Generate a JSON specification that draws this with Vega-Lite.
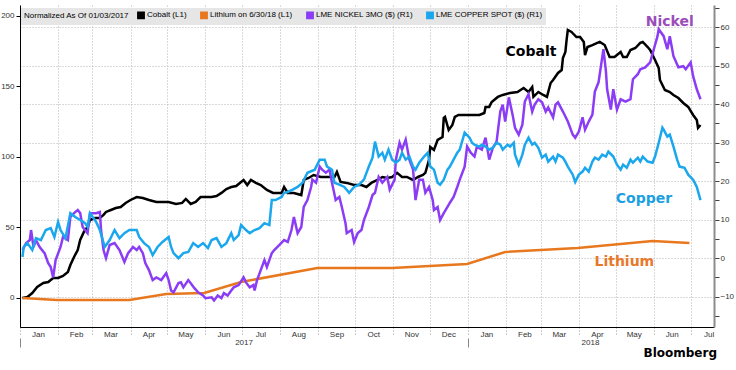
{
 "$schema": "https://vega.github.io/schema/vega-lite/v6.json",
 "width": 694,
 "height": 322,
 "autosize": {"type": "none"},
 "padding": {"left": 20, "top": 5, "right": 22, "bottom": 43},
 "background": "white",
 "config": {
  "view": {"stroke": null},
  "font": "Liberation Sans",
  "axis": {"labelFont": "Liberation Sans", "labelFontSize": 8, "labelColor": "#333333", "title": null}
 },
 "title": {"text": "Bloomberg", "orient": "bottom", "anchor": "end", "frame": "group", "font": "DejaVu Sans", "fontSize": 12, "fontWeight": "bold", "color": "#000000", "offset": 0, "dx": 3},
 "datasets": {
  "left": [
   {"d":"2017-01-03","v":0,"s":"Cobalt"},{"d":"2017-01-07","v":0.7,"s":"Cobalt"},{"d":"2017-01-11","v":3.5,"s":"Cobalt"},{"d":"2017-01-15","v":7.8,"s":"Cobalt"},{"d":"2017-01-20","v":10.6,"s":"Cobalt"},{"d":"2017-01-24","v":11.3,"s":"Cobalt"},{"d":"2017-01-28","v":14.2,"s":"Cobalt"},{"d":"2017-02-01","v":14.2,"s":"Cobalt"},{"d":"2017-02-05","v":15.6,"s":"Cobalt"},{"d":"2017-02-09","v":18.4,"s":"Cobalt"},{"d":"2017-02-11","v":23.4,"s":"Cobalt"},{"d":"2017-02-14","v":29.1,"s":"Cobalt"},{"d":"2017-02-17","v":34.0,"s":"Cobalt"},{"d":"2017-02-19","v":41.1,"s":"Cobalt"},{"d":"2017-02-22","v":46.8,"s":"Cobalt"},{"d":"2017-02-25","v":50.4,"s":"Cobalt"},{"d":"2017-02-27","v":55.3,"s":"Cobalt"},{"d":"2017-03-03","v":56.7,"s":"Cobalt"},{"d":"2017-03-07","v":56.7,"s":"Cobalt"},{"d":"2017-03-10","v":58.9,"s":"Cobalt"},{"d":"2017-03-12","v":61.0,"s":"Cobalt"},{"d":"2017-03-16","v":62.4,"s":"Cobalt"},{"d":"2017-03-20","v":63.8,"s":"Cobalt"},{"d":"2017-03-24","v":64.5,"s":"Cobalt"},{"d":"2017-03-28","v":67.4,"s":"Cobalt"},{"d":"2017-04-01","v":69.5,"s":"Cobalt"},{"d":"2017-04-06","v":71.6,"s":"Cobalt"},{"d":"2017-04-11","v":70.9,"s":"Cobalt"},{"d":"2017-04-16","v":69.5,"s":"Cobalt"},{"d":"2017-04-22","v":68.1,"s":"Cobalt"},{"d":"2017-04-27","v":68.1,"s":"Cobalt"},{"d":"2017-05-02","v":68.1,"s":"Cobalt"},{"d":"2017-05-08","v":66.7,"s":"Cobalt"},{"d":"2017-05-13","v":67.4,"s":"Cobalt"},{"d":"2017-05-16","v":70.2,"s":"Cobalt"},{"d":"2017-05-20","v":66.7,"s":"Cobalt"},{"d":"2017-05-24","v":68.1,"s":"Cobalt"},{"d":"2017-05-28","v":71.6,"s":"Cobalt"},{"d":"2017-06-01","v":71.6,"s":"Cobalt"},{"d":"2017-06-06","v":71.6,"s":"Cobalt"},{"d":"2017-06-10","v":72.3,"s":"Cobalt"},{"d":"2017-06-14","v":74.5,"s":"Cobalt"},{"d":"2017-06-18","v":77.3,"s":"Cobalt"},{"d":"2017-06-22","v":78.7,"s":"Cobalt"},{"d":"2017-06-26","v":79.4,"s":"Cobalt"},{"d":"2017-06-30","v":82.3,"s":"Cobalt"},{"d":"2017-07-02","v":83.7,"s":"Cobalt"},{"d":"2017-07-05","v":80.1,"s":"Cobalt"},{"d":"2017-07-08","v":83.7,"s":"Cobalt"},{"d":"2017-07-12","v":81.6,"s":"Cobalt"},{"d":"2017-07-16","v":80.1,"s":"Cobalt"},{"d":"2017-07-21","v":76.6,"s":"Cobalt"},{"d":"2017-07-26","v":74.5,"s":"Cobalt"},{"d":"2017-08-02","v":74.5,"s":"Cobalt"},{"d":"2017-08-04","v":78.7,"s":"Cobalt"},{"d":"2017-08-07","v":74.5,"s":"Cobalt"},{"d":"2017-08-12","v":74.5,"s":"Cobalt"},{"d":"2017-08-18","v":73.0,"s":"Cobalt"},{"d":"2017-08-20","v":83.7,"s":"Cobalt"},{"d":"2017-08-24","v":85.1,"s":"Cobalt"},{"d":"2017-08-28","v":87.2,"s":"Cobalt"},{"d":"2017-09-03","v":85.8,"s":"Cobalt"},{"d":"2017-09-08","v":85.8,"s":"Cobalt"},{"d":"2017-09-14","v":85.8,"s":"Cobalt"},{"d":"2017-09-16","v":89.4,"s":"Cobalt"},{"d":"2017-09-19","v":82.3,"s":"Cobalt"},{"d":"2017-09-24","v":81.6,"s":"Cobalt"},{"d":"2017-09-30","v":80.1,"s":"Cobalt"},{"d":"2017-10-06","v":80.1,"s":"Cobalt"},{"d":"2017-10-10","v":78.7,"s":"Cobalt"},{"d":"2017-10-14","v":81.6,"s":"Cobalt"},{"d":"2017-10-19","v":83.7,"s":"Cobalt"},{"d":"2017-10-23","v":85.8,"s":"Cobalt"},{"d":"2017-10-27","v":85.1,"s":"Cobalt"},{"d":"2017-10-31","v":85.8,"s":"Cobalt"},{"d":"2017-11-04","v":88.7,"s":"Cobalt"},{"d":"2017-11-08","v":85.8,"s":"Cobalt"},{"d":"2017-11-12","v":85.8,"s":"Cobalt"},{"d":"2017-11-17","v":83.7,"s":"Cobalt"},{"d":"2017-11-21","v":85.8,"s":"Cobalt"},{"d":"2017-11-25","v":87.2,"s":"Cobalt"},{"d":"2017-11-27","v":88.7,"s":"Cobalt"},{"d":"2017-11-30","v":97.9,"s":"Cobalt"},{"d":"2017-12-01","v":107.1,"s":"Cobalt"},{"d":"2017-12-04","v":105.0,"s":"Cobalt"},{"d":"2017-12-07","v":112.1,"s":"Cobalt"},{"d":"2017-12-11","v":114.2,"s":"Cobalt"},{"d":"2017-12-12","v":127.7,"s":"Cobalt"},{"d":"2017-12-13","v":128.4,"s":"Cobalt"},{"d":"2017-12-16","v":119.1,"s":"Cobalt"},{"d":"2017-12-19","v":122.7,"s":"Cobalt"},{"d":"2017-12-21","v":128.4,"s":"Cobalt"},{"d":"2017-12-24","v":129.8,"s":"Cobalt"},{"d":"2017-12-29","v":129.8,"s":"Cobalt"},{"d":"2018-01-04","v":129.8,"s":"Cobalt"},{"d":"2018-01-10","v":129.8,"s":"Cobalt"},{"d":"2018-01-14","v":131.2,"s":"Cobalt"},{"d":"2018-01-15","v":135.5,"s":"Cobalt"},{"d":"2018-01-18","v":135.5,"s":"Cobalt"},{"d":"2018-01-20","v":139.0,"s":"Cobalt"},{"d":"2018-01-25","v":142.6,"s":"Cobalt"},{"d":"2018-01-29","v":144.0,"s":"Cobalt"},{"d":"2018-02-04","v":145.4,"s":"Cobalt"},{"d":"2018-02-10","v":146.1,"s":"Cobalt"},{"d":"2018-02-15","v":148.9,"s":"Cobalt"},{"d":"2018-02-19","v":146.1,"s":"Cobalt"},{"d":"2018-02-22","v":149.6,"s":"Cobalt"},{"d":"2018-02-23","v":142.6,"s":"Cobalt"},{"d":"2018-02-27","v":146.1,"s":"Cobalt"},{"d":"2018-03-03","v":144.0,"s":"Cobalt"},{"d":"2018-03-06","v":142.6,"s":"Cobalt"},{"d":"2018-03-09","v":152.5,"s":"Cobalt"},{"d":"2018-03-11","v":154.6,"s":"Cobalt"},{"d":"2018-03-15","v":159.6,"s":"Cobalt"},{"d":"2018-03-18","v":161.7,"s":"Cobalt"},{"d":"2018-03-19","v":170.2,"s":"Cobalt"},{"d":"2018-03-21","v":174.5,"s":"Cobalt"},{"d":"2018-03-22","v":183.0,"s":"Cobalt"},{"d":"2018-03-23","v":190.1,"s":"Cobalt"},{"d":"2018-03-26","v":188.7,"s":"Cobalt"},{"d":"2018-03-30","v":185.1,"s":"Cobalt"},{"d":"2018-04-02","v":185.1,"s":"Cobalt"},{"d":"2018-04-05","v":181.6,"s":"Cobalt"},{"d":"2018-04-06","v":172.3,"s":"Cobalt"},{"d":"2018-04-08","v":178.0,"s":"Cobalt"},{"d":"2018-04-12","v":179.4,"s":"Cobalt"},{"d":"2018-04-16","v":180.9,"s":"Cobalt"},{"d":"2018-04-18","v":181.6,"s":"Cobalt"},{"d":"2018-04-22","v":179.4,"s":"Cobalt"},{"d":"2018-04-26","v":170.9,"s":"Cobalt"},{"d":"2018-04-30","v":170.9,"s":"Cobalt"},{"d":"2018-05-05","v":174.5,"s":"Cobalt"},{"d":"2018-05-07","v":170.9,"s":"Cobalt"},{"d":"2018-05-10","v":170.9,"s":"Cobalt"},{"d":"2018-05-13","v":175.9,"s":"Cobalt"},{"d":"2018-05-17","v":177.3,"s":"Cobalt"},{"d":"2018-05-21","v":180.9,"s":"Cobalt"},{"d":"2018-05-23","v":181.6,"s":"Cobalt"},{"d":"2018-05-27","v":178.0,"s":"Cobalt"},{"d":"2018-05-29","v":175.9,"s":"Cobalt"},{"d":"2018-06-02","v":168.8,"s":"Cobalt"},{"d":"2018-06-05","v":163.1,"s":"Cobalt"},{"d":"2018-06-06","v":154.6,"s":"Cobalt"},{"d":"2018-06-10","v":147.5,"s":"Cobalt"},{"d":"2018-06-14","v":146.1,"s":"Cobalt"},{"d":"2018-06-17","v":144.0,"s":"Cobalt"},{"d":"2018-06-21","v":141.8,"s":"Cobalt"},{"d":"2018-06-25","v":138.3,"s":"Cobalt"},{"d":"2018-06-29","v":135.5,"s":"Cobalt"},{"d":"2018-07-03","v":129.8,"s":"Cobalt"},{"d":"2018-07-06","v":126.2,"s":"Cobalt"},{"d":"2018-07-07","v":120.6,"s":"Cobalt"},{"d":"2018-07-09","v":122.7,"s":"Cobalt"},
   {"d":"2017-01-03","v":0,"s":"Lithium"},{"d":"2017-01-31","v":-1.4,"s":"Lithium"},{"d":"2017-03-31","v":-1.4,"s":"Lithium"},{"d":"2017-04-30","v":2.8,"s":"Lithium"},{"d":"2017-05-31","v":3.5,"s":"Lithium"},{"d":"2017-06-30","v":11.3,"s":"Lithium"},{"d":"2017-08-31","v":21.3,"s":"Lithium"},{"d":"2017-10-31","v":21.3,"s":"Lithium"},{"d":"2017-12-31","v":24.1,"s":"Lithium"},{"d":"2018-01-31","v":32.6,"s":"Lithium"},{"d":"2018-03-31","v":35.5,"s":"Lithium"},{"d":"2018-05-31","v":40.4,"s":"Lithium"},{"d":"2018-06-30","v":39.0,"s":"Lithium"}
  ],
  "right": [
   {"d":"2017-01-03","v":2.1,"s":"Nickel"},{"d":"2017-01-06","v":3.9,"s":"Nickel"},{"d":"2017-01-09","v":4.7,"s":"Nickel"},{"d":"2017-01-10","v":7.3,"s":"Nickel"},{"d":"2017-01-12","v":2.9,"s":"Nickel"},{"d":"2017-01-14","v":4.7,"s":"Nickel"},{"d":"2017-01-17","v":2.9,"s":"Nickel"},{"d":"2017-01-21","v":1.3,"s":"Nickel"},{"d":"2017-01-24","v":-1.3,"s":"Nickel"},{"d":"2017-01-26","v":-2.3,"s":"Nickel"},{"d":"2017-01-28","v":-5.0,"s":"Nickel"},{"d":"2017-01-30","v":-0.5,"s":"Nickel"},{"d":"2017-02-03","v":2.9,"s":"Nickel"},{"d":"2017-02-05","v":5.5,"s":"Nickel"},{"d":"2017-02-09","v":4.7,"s":"Nickel"},{"d":"2017-02-11","v":10.7,"s":"Nickel"},{"d":"2017-02-14","v":11.7,"s":"Nickel"},{"d":"2017-02-17","v":12.5,"s":"Nickel"},{"d":"2017-02-19","v":11.7,"s":"Nickel"},{"d":"2017-02-21","v":8.1,"s":"Nickel"},{"d":"2017-02-25","v":6.5,"s":"Nickel"},{"d":"2017-02-27","v":11.7,"s":"Nickel"},{"d":"2017-03-04","v":11.7,"s":"Nickel"},{"d":"2017-03-07","v":12.0,"s":"Nickel"},{"d":"2017-03-08","v":7.3,"s":"Nickel"},{"d":"2017-03-10","v":2.1,"s":"Nickel"},{"d":"2017-03-12","v":0.0,"s":"Nickel"},{"d":"2017-03-15","v":3.4,"s":"Nickel"},{"d":"2017-03-19","v":3.9,"s":"Nickel"},{"d":"2017-03-23","v":2.1,"s":"Nickel"},{"d":"2017-03-27","v":-1.0,"s":"Nickel"},{"d":"2017-03-30","v":1.3,"s":"Nickel"},{"d":"2017-04-03","v":2.9,"s":"Nickel"},{"d":"2017-04-06","v":2.1,"s":"Nickel"},{"d":"2017-04-08","v":2.9,"s":"Nickel"},{"d":"2017-04-11","v":1.3,"s":"Nickel"},{"d":"2017-04-13","v":-1.3,"s":"Nickel"},{"d":"2017-04-16","v":-3.1,"s":"Nickel"},{"d":"2017-04-19","v":-5.7,"s":"Nickel"},{"d":"2017-04-22","v":-5.0,"s":"Nickel"},{"d":"2017-04-26","v":-5.7,"s":"Nickel"},{"d":"2017-04-30","v":-3.9,"s":"Nickel"},{"d":"2017-05-02","v":-5.7,"s":"Nickel"},{"d":"2017-05-04","v":-8.4,"s":"Nickel"},{"d":"2017-05-06","v":-8.9,"s":"Nickel"},{"d":"2017-05-10","v":-6.5,"s":"Nickel"},{"d":"2017-05-12","v":-6.3,"s":"Nickel"},{"d":"2017-05-14","v":-7.6,"s":"Nickel"},{"d":"2017-05-18","v":-5.7,"s":"Nickel"},{"d":"2017-05-20","v":-6.5,"s":"Nickel"},{"d":"2017-05-23","v":-7.8,"s":"Nickel"},{"d":"2017-05-26","v":-8.9,"s":"Nickel"},{"d":"2017-05-30","v":-9.7,"s":"Nickel"},{"d":"2017-06-01","v":-10.4,"s":"Nickel"},{"d":"2017-06-06","v":-10.2,"s":"Nickel"},{"d":"2017-06-08","v":-11.0,"s":"Nickel"},{"d":"2017-06-11","v":-9.7,"s":"Nickel"},{"d":"2017-06-14","v":-10.4,"s":"Nickel"},{"d":"2017-06-16","v":-9.1,"s":"Nickel"},{"d":"2017-06-19","v":-9.7,"s":"Nickel"},{"d":"2017-06-22","v":-8.4,"s":"Nickel"},{"d":"2017-06-24","v":-7.6,"s":"Nickel"},{"d":"2017-06-28","v":-7.0,"s":"Nickel"},{"d":"2017-07-02","v":-5.0,"s":"Nickel"},{"d":"2017-07-04","v":-6.3,"s":"Nickel"},{"d":"2017-07-07","v":-7.6,"s":"Nickel"},{"d":"2017-07-10","v":-7.0,"s":"Nickel"},{"d":"2017-07-11","v":-8.4,"s":"Nickel"},{"d":"2017-07-13","v":-5.7,"s":"Nickel"},{"d":"2017-07-16","v":-3.1,"s":"Nickel"},{"d":"2017-07-19","v":-0.5,"s":"Nickel"},{"d":"2017-07-21","v":-2.3,"s":"Nickel"},{"d":"2017-07-25","v":1.3,"s":"Nickel"},{"d":"2017-07-27","v":2.1,"s":"Nickel"},{"d":"2017-07-31","v":3.4,"s":"Nickel"},{"d":"2017-08-04","v":4.7,"s":"Nickel"},{"d":"2017-08-07","v":4.2,"s":"Nickel"},{"d":"2017-08-10","v":7.3,"s":"Nickel"},{"d":"2017-08-12","v":10.7,"s":"Nickel"},{"d":"2017-08-15","v":6.5,"s":"Nickel"},{"d":"2017-08-18","v":8.1,"s":"Nickel"},{"d":"2017-08-20","v":13.3,"s":"Nickel"},{"d":"2017-08-23","v":15.1,"s":"Nickel"},{"d":"2017-08-26","v":18.5,"s":"Nickel"},{"d":"2017-08-27","v":20.4,"s":"Nickel"},{"d":"2017-08-30","v":19.6,"s":"Nickel"},{"d":"2017-09-02","v":23.8,"s":"Nickel"},{"d":"2017-09-04","v":23.0,"s":"Nickel"},{"d":"2017-09-07","v":22.2,"s":"Nickel"},{"d":"2017-09-10","v":23.0,"s":"Nickel"},{"d":"2017-09-12","v":19.6,"s":"Nickel"},{"d":"2017-09-15","v":15.1,"s":"Nickel"},{"d":"2017-09-18","v":15.9,"s":"Nickel"},{"d":"2017-09-20","v":13.3,"s":"Nickel"},{"d":"2017-09-23","v":9.1,"s":"Nickel"},{"d":"2017-09-24","v":6.5,"s":"Nickel"},{"d":"2017-09-28","v":7.3,"s":"Nickel"},{"d":"2017-09-30","v":4.2,"s":"Nickel"},{"d":"2017-10-03","v":6.5,"s":"Nickel"},{"d":"2017-10-06","v":7.3,"s":"Nickel"},{"d":"2017-10-08","v":9.9,"s":"Nickel"},{"d":"2017-10-12","v":13.3,"s":"Nickel"},{"d":"2017-10-15","v":16.4,"s":"Nickel"},{"d":"2017-10-17","v":17.0,"s":"Nickel"},{"d":"2017-10-20","v":21.1,"s":"Nickel"},{"d":"2017-10-23","v":19.6,"s":"Nickel"},{"d":"2017-10-27","v":21.1,"s":"Nickel"},{"d":"2017-10-29","v":17.8,"s":"Nickel"},{"d":"2017-11-02","v":20.4,"s":"Nickel"},{"d":"2017-11-03","v":25.6,"s":"Nickel"},{"d":"2017-11-06","v":30.0,"s":"Nickel"},{"d":"2017-11-08","v":28.2,"s":"Nickel"},{"d":"2017-11-11","v":30.8,"s":"Nickel"},{"d":"2017-11-14","v":25.6,"s":"Nickel"},{"d":"2017-11-17","v":23.0,"s":"Nickel"},{"d":"2017-11-19","v":15.1,"s":"Nickel"},{"d":"2017-11-22","v":20.4,"s":"Nickel"},{"d":"2017-11-25","v":20.4,"s":"Nickel"},{"d":"2017-11-27","v":17.0,"s":"Nickel"},{"d":"2017-11-30","v":18.5,"s":"Nickel"},{"d":"2017-12-03","v":15.1,"s":"Nickel"},{"d":"2017-12-04","v":12.5,"s":"Nickel"},{"d":"2017-12-07","v":13.3,"s":"Nickel"},{"d":"2017-12-09","v":9.9,"s":"Nickel"},{"d":"2017-12-12","v":11.7,"s":"Nickel"},{"d":"2017-12-15","v":13.3,"s":"Nickel"},{"d":"2017-12-17","v":14.4,"s":"Nickel"},{"d":"2017-12-20","v":15.9,"s":"Nickel"},{"d":"2017-12-23","v":18.5,"s":"Nickel"},{"d":"2017-12-25","v":20.4,"s":"Nickel"},{"d":"2017-12-29","v":23.8,"s":"Nickel"},{"d":"2017-12-31","v":29.0,"s":"Nickel"},{"d":"2018-01-03","v":27.4,"s":"Nickel"},{"d":"2018-01-06","v":26.4,"s":"Nickel"},{"d":"2018-01-08","v":29.0,"s":"Nickel"},{"d":"2018-01-12","v":28.2,"s":"Nickel"},{"d":"2018-01-15","v":31.3,"s":"Nickel"},{"d":"2018-01-18","v":25.6,"s":"Nickel"},{"d":"2018-01-21","v":28.7,"s":"Nickel"},{"d":"2018-01-24","v":30.3,"s":"Nickel"},{"d":"2018-01-27","v":38.1,"s":"Nickel"},{"d":"2018-01-29","v":39.9,"s":"Nickel"},{"d":"2018-01-31","v":35.5,"s":"Nickel"},{"d":"2018-02-03","v":41.8,"s":"Nickel"},{"d":"2018-02-06","v":37.3,"s":"Nickel"},{"d":"2018-02-08","v":33.9,"s":"Nickel"},{"d":"2018-02-11","v":32.1,"s":"Nickel"},{"d":"2018-02-14","v":34.7,"s":"Nickel"},{"d":"2018-02-16","v":40.7,"s":"Nickel"},{"d":"2018-02-19","v":42.6,"s":"Nickel"},{"d":"2018-02-22","v":38.1,"s":"Nickel"},{"d":"2018-02-24","v":39.9,"s":"Nickel"},{"d":"2018-02-27","v":41.3,"s":"Nickel"},{"d":"2018-03-02","v":40.5,"s":"Nickel"},{"d":"2018-03-05","v":38.1,"s":"Nickel"},{"d":"2018-03-07","v":39.2,"s":"Nickel"},{"d":"2018-03-11","v":36.6,"s":"Nickel"},{"d":"2018-03-13","v":39.9,"s":"Nickel"},{"d":"2018-03-15","v":40.5,"s":"Nickel"},{"d":"2018-03-19","v":38.1,"s":"Nickel"},{"d":"2018-03-21","v":36.8,"s":"Nickel"},{"d":"2018-03-23","v":35.5,"s":"Nickel"},{"d":"2018-03-27","v":32.1,"s":"Nickel"},{"d":"2018-03-29","v":31.3,"s":"Nickel"},{"d":"2018-04-01","v":32.9,"s":"Nickel"},{"d":"2018-04-04","v":36.6,"s":"Nickel"},{"d":"2018-04-06","v":33.4,"s":"Nickel"},{"d":"2018-04-09","v":35.5,"s":"Nickel"},{"d":"2018-04-12","v":37.3,"s":"Nickel"},{"d":"2018-04-14","v":43.3,"s":"Nickel"},{"d":"2018-04-17","v":45.7,"s":"Nickel"},{"d":"2018-04-20","v":52.2,"s":"Nickel"},{"d":"2018-04-21","v":54.3,"s":"Nickel"},{"d":"2018-04-23","v":48.6,"s":"Nickel"},{"d":"2018-04-24","v":43.9,"s":"Nickel"},{"d":"2018-04-27","v":38.6,"s":"Nickel"},{"d":"2018-04-29","v":43.9,"s":"Nickel"},{"d":"2018-05-02","v":38.6,"s":"Nickel"},{"d":"2018-05-05","v":41.3,"s":"Nickel"},{"d":"2018-05-09","v":40.7,"s":"Nickel"},{"d":"2018-05-13","v":41.3,"s":"Nickel"},{"d":"2018-05-15","v":46.5,"s":"Nickel"},{"d":"2018-05-19","v":47.8,"s":"Nickel"},{"d":"2018-05-21","v":49.1,"s":"Nickel"},{"d":"2018-05-25","v":49.6,"s":"Nickel"},{"d":"2018-05-29","v":50.9,"s":"Nickel"},{"d":"2018-06-01","v":54.3,"s":"Nickel"},{"d":"2018-06-04","v":57.7,"s":"Nickel"},{"d":"2018-06-05","v":59.5,"s":"Nickel"},{"d":"2018-06-09","v":57.7,"s":"Nickel"},{"d":"2018-06-12","v":54.3,"s":"Nickel"},{"d":"2018-06-14","v":57.7,"s":"Nickel"},{"d":"2018-06-17","v":52.5,"s":"Nickel"},{"d":"2018-06-21","v":49.6,"s":"Nickel"},{"d":"2018-06-25","v":49.9,"s":"Nickel"},{"d":"2018-06-27","v":49.1,"s":"Nickel"},{"d":"2018-07-01","v":50.9,"s":"Nickel"},{"d":"2018-07-03","v":47.3,"s":"Nickel"},{"d":"2018-07-06","v":43.9,"s":"Nickel"},{"d":"2018-07-09","v":41.3,"s":"Nickel"},
   {"d":"2017-01-03","v":0.3,"s":"Copper"},{"d":"2017-01-04","v":2.9,"s":"Copper"},{"d":"2017-01-07","v":3.9,"s":"Copper"},{"d":"2017-01-11","v":2.1,"s":"Copper"},{"d":"2017-01-14","v":5.2,"s":"Copper"},{"d":"2017-01-18","v":4.7,"s":"Copper"},{"d":"2017-01-22","v":7.3,"s":"Copper"},{"d":"2017-01-26","v":7.8,"s":"Copper"},{"d":"2017-01-29","v":5.5,"s":"Copper"},{"d":"2017-02-01","v":9.4,"s":"Copper"},{"d":"2017-02-03","v":7.3,"s":"Copper"},{"d":"2017-02-07","v":5.2,"s":"Copper"},{"d":"2017-02-11","v":11.7,"s":"Copper"},{"d":"2017-02-15","v":10.7,"s":"Copper"},{"d":"2017-02-19","v":9.9,"s":"Copper"},{"d":"2017-02-23","v":9.1,"s":"Copper"},{"d":"2017-02-25","v":8.1,"s":"Copper"},{"d":"2017-02-27","v":11.7,"s":"Copper"},{"d":"2017-03-04","v":9.4,"s":"Copper"},{"d":"2017-03-07","v":7.3,"s":"Copper"},{"d":"2017-03-11","v":2.9,"s":"Copper"},{"d":"2017-03-15","v":4.7,"s":"Copper"},{"d":"2017-03-19","v":7.3,"s":"Copper"},{"d":"2017-03-23","v":5.2,"s":"Copper"},{"d":"2017-03-27","v":6.5,"s":"Copper"},{"d":"2017-03-31","v":7.3,"s":"Copper"},{"d":"2017-04-06","v":7.3,"s":"Copper"},{"d":"2017-04-08","v":5.5,"s":"Copper"},{"d":"2017-04-12","v":3.9,"s":"Copper"},{"d":"2017-04-16","v":2.9,"s":"Copper"},{"d":"2017-04-19","v":0.8,"s":"Copper"},{"d":"2017-04-23","v":2.9,"s":"Copper"},{"d":"2017-04-27","v":4.2,"s":"Copper"},{"d":"2017-05-02","v":5.5,"s":"Copper"},{"d":"2017-05-04","v":2.9,"s":"Copper"},{"d":"2017-05-06","v":1.3,"s":"Copper"},{"d":"2017-05-10","v":0.0,"s":"Copper"},{"d":"2017-05-14","v":1.3,"s":"Copper"},{"d":"2017-05-18","v":1.6,"s":"Copper"},{"d":"2017-05-22","v":3.9,"s":"Copper"},{"d":"2017-05-26","v":2.9,"s":"Copper"},{"d":"2017-05-30","v":3.9,"s":"Copper"},{"d":"2017-06-03","v":2.6,"s":"Copper"},{"d":"2017-06-06","v":4.7,"s":"Copper"},{"d":"2017-06-10","v":5.2,"s":"Copper"},{"d":"2017-06-14","v":2.9,"s":"Copper"},{"d":"2017-06-18","v":3.9,"s":"Copper"},{"d":"2017-06-22","v":6.5,"s":"Copper"},{"d":"2017-06-24","v":4.7,"s":"Copper"},{"d":"2017-06-28","v":6.0,"s":"Copper"},{"d":"2017-06-30","v":8.6,"s":"Copper"},{"d":"2017-07-04","v":7.3,"s":"Copper"},{"d":"2017-07-07","v":6.5,"s":"Copper"},{"d":"2017-07-11","v":7.3,"s":"Copper"},{"d":"2017-07-15","v":7.8,"s":"Copper"},{"d":"2017-07-19","v":9.1,"s":"Copper"},{"d":"2017-07-23","v":8.6,"s":"Copper"},{"d":"2017-07-25","v":15.1,"s":"Copper"},{"d":"2017-07-28","v":15.1,"s":"Copper"},{"d":"2017-08-02","v":15.9,"s":"Copper"},{"d":"2017-08-04","v":17.0,"s":"Copper"},{"d":"2017-08-07","v":17.2,"s":"Copper"},{"d":"2017-08-11","v":17.8,"s":"Copper"},{"d":"2017-08-15","v":18.5,"s":"Copper"},{"d":"2017-08-19","v":19.6,"s":"Copper"},{"d":"2017-08-23","v":22.2,"s":"Copper"},{"d":"2017-08-29","v":23.0,"s":"Copper"},{"d":"2017-09-02","v":25.6,"s":"Copper"},{"d":"2017-09-06","v":25.6,"s":"Copper"},{"d":"2017-09-08","v":23.8,"s":"Copper"},{"d":"2017-09-12","v":23.0,"s":"Copper"},{"d":"2017-09-14","v":19.6,"s":"Copper"},{"d":"2017-09-18","v":19.1,"s":"Copper"},{"d":"2017-09-22","v":18.5,"s":"Copper"},{"d":"2017-09-26","v":17.0,"s":"Copper"},{"d":"2017-09-30","v":18.5,"s":"Copper"},{"d":"2017-10-04","v":19.1,"s":"Copper"},{"d":"2017-10-08","v":20.4,"s":"Copper"},{"d":"2017-10-12","v":23.8,"s":"Copper"},{"d":"2017-10-15","v":26.1,"s":"Copper"},{"d":"2017-10-17","v":30.3,"s":"Copper"},{"d":"2017-10-20","v":26.4,"s":"Copper"},{"d":"2017-10-23","v":27.4,"s":"Copper"},{"d":"2017-10-25","v":25.6,"s":"Copper"},{"d":"2017-10-28","v":28.2,"s":"Copper"},{"d":"2017-10-31","v":25.6,"s":"Copper"},{"d":"2017-11-03","v":24.8,"s":"Copper"},{"d":"2017-11-06","v":25.6,"s":"Copper"},{"d":"2017-11-08","v":27.4,"s":"Copper"},{"d":"2017-11-11","v":25.6,"s":"Copper"},{"d":"2017-11-14","v":26.4,"s":"Copper"},{"d":"2017-11-17","v":23.8,"s":"Copper"},{"d":"2017-11-19","v":23.0,"s":"Copper"},{"d":"2017-11-22","v":24.8,"s":"Copper"},{"d":"2017-11-26","v":26.4,"s":"Copper"},{"d":"2017-11-29","v":27.4,"s":"Copper"},{"d":"2017-12-01","v":23.8,"s":"Copper"},{"d":"2017-12-04","v":23.0,"s":"Copper"},{"d":"2017-12-07","v":19.6,"s":"Copper"},{"d":"2017-12-09","v":19.1,"s":"Copper"},{"d":"2017-12-12","v":20.4,"s":"Copper"},{"d":"2017-12-15","v":23.0,"s":"Copper"},{"d":"2017-12-17","v":23.8,"s":"Copper"},{"d":"2017-12-20","v":25.6,"s":"Copper"},{"d":"2017-12-23","v":27.4,"s":"Copper"},{"d":"2017-12-25","v":28.2,"s":"Copper"},{"d":"2017-12-29","v":32.6,"s":"Copper"},{"d":"2018-01-02","v":31.3,"s":"Copper"},{"d":"2018-01-04","v":30.0,"s":"Copper"},{"d":"2018-01-06","v":29.5,"s":"Copper"},{"d":"2018-01-10","v":29.0,"s":"Copper"},{"d":"2018-01-12","v":29.5,"s":"Copper"},{"d":"2018-01-15","v":29.0,"s":"Copper"},{"d":"2018-01-18","v":28.2,"s":"Copper"},{"d":"2018-01-21","v":28.7,"s":"Copper"},{"d":"2018-01-24","v":30.0,"s":"Copper"},{"d":"2018-01-27","v":29.5,"s":"Copper"},{"d":"2018-01-29","v":28.2,"s":"Copper"},{"d":"2018-02-02","v":29.5,"s":"Copper"},{"d":"2018-02-04","v":29.0,"s":"Copper"},{"d":"2018-02-07","v":30.0,"s":"Copper"},{"d":"2018-02-08","v":26.9,"s":"Copper"},{"d":"2018-02-11","v":24.3,"s":"Copper"},{"d":"2018-02-14","v":26.9,"s":"Copper"},{"d":"2018-02-16","v":29.5,"s":"Copper"},{"d":"2018-02-19","v":31.3,"s":"Copper"},{"d":"2018-02-22","v":29.5,"s":"Copper"},{"d":"2018-02-24","v":30.0,"s":"Copper"},{"d":"2018-02-27","v":28.7,"s":"Copper"},{"d":"2018-03-02","v":26.1,"s":"Copper"},{"d":"2018-03-05","v":26.9,"s":"Copper"},{"d":"2018-03-07","v":25.1,"s":"Copper"},{"d":"2018-03-11","v":26.4,"s":"Copper"},{"d":"2018-03-13","v":25.1,"s":"Copper"},{"d":"2018-03-15","v":26.9,"s":"Copper"},{"d":"2018-03-19","v":26.1,"s":"Copper"},{"d":"2018-03-21","v":25.1,"s":"Copper"},{"d":"2018-03-23","v":23.8,"s":"Copper"},{"d":"2018-03-27","v":21.7,"s":"Copper"},{"d":"2018-03-29","v":19.8,"s":"Copper"},{"d":"2018-04-01","v":21.7,"s":"Copper"},{"d":"2018-04-04","v":22.5,"s":"Copper"},{"d":"2018-04-06","v":23.5,"s":"Copper"},{"d":"2018-04-09","v":22.5,"s":"Copper"},{"d":"2018-04-12","v":25.1,"s":"Copper"},{"d":"2018-04-14","v":26.1,"s":"Copper"},{"d":"2018-04-17","v":25.6,"s":"Copper"},{"d":"2018-04-20","v":26.9,"s":"Copper"},{"d":"2018-04-23","v":26.4,"s":"Copper"},{"d":"2018-04-25","v":27.7,"s":"Copper"},{"d":"2018-04-29","v":26.4,"s":"Copper"},{"d":"2018-05-02","v":24.3,"s":"Copper"},{"d":"2018-05-05","v":23.0,"s":"Copper"},{"d":"2018-05-07","v":24.3,"s":"Copper"},{"d":"2018-05-10","v":23.5,"s":"Copper"},{"d":"2018-05-13","v":25.6,"s":"Copper"},{"d":"2018-05-15","v":24.8,"s":"Copper"},{"d":"2018-05-19","v":26.1,"s":"Copper"},{"d":"2018-05-21","v":25.1,"s":"Copper"},{"d":"2018-05-23","v":26.4,"s":"Copper"},{"d":"2018-05-27","v":25.1,"s":"Copper"},{"d":"2018-05-31","v":24.8,"s":"Copper"},{"d":"2018-06-02","v":26.4,"s":"Copper"},{"d":"2018-06-05","v":30.0,"s":"Copper"},{"d":"2018-06-08","v":33.9,"s":"Copper"},{"d":"2018-06-09","v":33.4,"s":"Copper"},{"d":"2018-06-12","v":31.6,"s":"Copper"},{"d":"2018-06-14","v":32.1,"s":"Copper"},{"d":"2018-06-17","v":29.0,"s":"Copper"},{"d":"2018-06-20","v":25.6,"s":"Copper"},{"d":"2018-06-22","v":23.8,"s":"Copper"},{"d":"2018-06-26","v":23.5,"s":"Copper"},{"d":"2018-06-29","v":21.7,"s":"Copper"},{"d":"2018-07-03","v":20.4,"s":"Copper"},{"d":"2018-07-06","v":18.5,"s":"Copper"},{"d":"2018-07-09","v":15.1,"s":"Copper"}
  ],
  "notes": [
   {"d":"2018-02-21","v":174.5,"label":"Cobalt"},
   {"d":"2018-06-14","v":195.7,"label":"Nickel"},
   {"d":"2018-05-24","v":70.2,"label":"Copper"},
   {"d":"2018-05-08","v":25.5,"label":"Lithium"}
  ],
  "years": [
   {"d":"2017-01-01"},{"d":"2018-01-01"}
  ]
 },
 "layer": [
  {
   "encoding": {
    "x": {"field": "d", "type": "temporal",
     "scale": {"type": "utc", "domain": [{"year":2017,"month":1,"date":1,"utc":true},{"year":2018,"month":7,"date":20,"utc":true}]},
     "axis": {
      "values": [
       {"year":2017,"month":1,"date":1,"utc":true},{"year":2017,"month":2,"date":1,"utc":true},{"year":2017,"month":3,"date":1,"utc":true},{"year":2017,"month":4,"date":1,"utc":true},{"year":2017,"month":5,"date":1,"utc":true},{"year":2017,"month":6,"date":1,"utc":true},{"year":2017,"month":7,"date":1,"utc":true},{"year":2017,"month":8,"date":1,"utc":true},{"year":2017,"month":9,"date":1,"utc":true},{"year":2017,"month":10,"date":1,"utc":true},{"year":2017,"month":11,"date":1,"utc":true},{"year":2017,"month":12,"date":1,"utc":true},
       {"year":2018,"month":1,"date":1,"utc":true},{"year":2018,"month":2,"date":1,"utc":true},{"year":2018,"month":3,"date":1,"utc":true},{"year":2018,"month":4,"date":1,"utc":true},{"year":2018,"month":5,"date":1,"utc":true},{"year":2018,"month":6,"date":1,"utc":true},{"year":2018,"month":7,"date":1,"utc":true}
      ],
      "labelExpr": "utcFormat(datum.value, '%b')",
      "labelOffset": 18,
      "labelFlush": false,
      "labelOverlap": false,
      "labelPadding": -6,
      "grid": true,
      "gridColor": "#b5b5b5",
      "gridDash": [1, 2],
      "tickSize": 9,
      "tickDash": [1, 2],
      "tickColor": "#999999",
      "domainColor": "#000000",
      "orient": "bottom"
     }
    },
    "y": {"field": "v", "type": "quantitative",
     "scale": {"domain": [-20.6, 207.8], "nice": false, "zero": false},
     "axis": {"values": [0, 50, 100, 150, 200], "grid": false, "tickSize": 4, "tickColor": "#000000", "domainColor": "#000000", "labelPadding": 2, "orient": "left"}
    }
   },
   "layer": [
    {
     "data": {"name": "left"},
     "mark": {"type": "line", "strokeWidth": 2.5},
     "encoding": {
      "color": {"field": "s", "type": "nominal",
       "scale": {"domain": ["Cobalt", "Lithium", "Nickel", "Copper"], "range": ["#000000", "#E8781E", "#8B3DF5", "#1AA7EE"]},
       "legend": {
        "orient": "none", "legendX": 1, "legendY": 3,
        "direction": "horizontal",
        "title": "Normalized As Of 01/03/2017",
        "titleOrient": "left",
        "titleFont": "Liberation Sans", "titleFontSize": 8, "titleFontWeight": "normal", "titleColor": "#000000", "titlePadding": 8,
        "labelFont": "Liberation Sans", "labelFontSize": 8, "labelColor": "#000000", "labelOffset": 2,
        "labelExpr": "datum.label == 'Cobalt' ? 'Cobalt (L1)' : datum.label == 'Lithium' ? 'Lithium on 6/30/18 (L1)' : datum.label == 'Nickel' ? 'LME NICKEL 3MO ($) (R1)' : 'LME COPPER SPOT ($) (R1)'",
        "columnPadding": 10,
        "symbolType": "square", "symbolSize": 40,
        "padding": 3,
        "fillColor": "#e6e6e6",
        "encode": {"symbols": {"update": {"shape": {"value": "square"}, "fill": {"scale": "color", "field": "value"}, "stroke": {"value": "transparent"}}}}
       }
      }
     }
    },
    {
     "data": {"name": "notes"},
     "mark": {"type": "text", "font": "DejaVu Sans", "fontSize": 14, "fontWeight": "bold", "align": "center", "baseline": "middle"},
     "encoding": {
      "text": {"field": "label"},
      "fill": {"field": "label", "type": "nominal",
       "scale": {"domain": ["Cobalt", "Nickel", "Copper", "Lithium"], "range": ["#000000", "#9B4DBA", "#1BA0E0", "#E8782A"]},
       "legend": null}
     }
    }
   ]
  },
  {
   "data": {"name": "right"},
   "mark": {"type": "line", "strokeWidth": 2.5},
   "encoding": {
    "x": {"field": "d", "type": "temporal", "scale": {"type": "utc", "domain": [{"year":2017,"month":1,"date":1,"utc":true},{"year":2018,"month":7,"date":20,"utc":true}]}, "axis": null},
    "y": {"field": "v", "type": "quantitative",
     "scale": {"domain": [-17.9, 65.8], "nice": false, "zero": false},
     "axis": {
      "orient": "right",
      "values": [-15, -10, -5, 0, 5, 10, 15, 20, 25, 30, 35, 40, 45, 50, 55, 60, 65],
      "labelExpr": "datum.value % 10 === 0 ? datum.label : ''",
      "grid": true,
      "gridColor": "#b5b5b5",
      "gridDash": [1, 2],
      "gridOpacity": {"condition": {"test": "datum.value % 10 === 0", "value": 1}, "value": 0},
      "tickSize": 5,
      "tickColor": "#444444",
      "domainColor": "#8c8c8c",
      "domainWidth": 2,
      "labelPadding": 1
     }
    },
    "color": {"field": "s", "type": "nominal"}
   }
  },
  {
   "data": {"name": "years"},
   "mark": {"type": "rule", "opacity": 0},
   "encoding": {
    "x": {"field": "d", "type": "temporal",
     "scale": {"type": "utc", "domain": [{"year":2017,"month":1,"date":1,"utc":true},{"year":2018,"month":7,"date":20,"utc":true}]},
     "axis": {
      "orient": "bottom",
      "values": [{"year":2017,"month":1,"date":1,"utc":true},{"year":2017,"month":7,"date":2,"utc":true},{"year":2018,"month":1,"date":1,"utc":true},{"year":2018,"month":4,"date":10,"utc":true}],
      "labelExpr": "utcmonth(datum.value) === 0 ? '' : utcFormat(datum.value, '%Y')",
      "tickOpacity": {"condition": {"test": "utcmonth(datum.value) === 0", "value": 1}, "value": 0},
      "tickSize": 9,
      "tickColor": "#888888",
      "domain": false,
      "grid": false,
      "offset": 11,
      "labelPadding": -9,
      "labelFlush": false,
      "labelOverlap": false
     }
    }
   }
  }
 ],
 "resolve": {"scale": {"y": "independent"}, "axis": {"x": "independent"}}
}
